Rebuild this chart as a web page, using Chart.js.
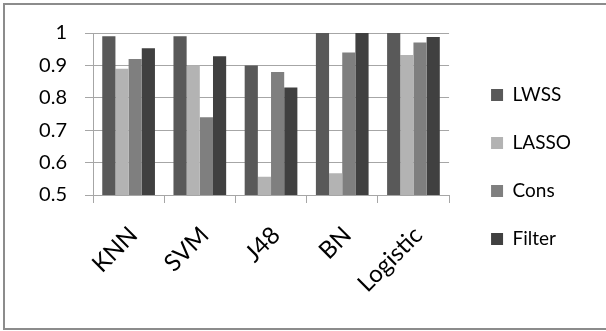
<!DOCTYPE html>
<html>
<head>
<meta charset="utf-8">
<script src="https://cdn.jsdelivr.net/npm/chart.js@4.4.1/dist/chart.umd.min.js"></script>
<style>
  html, body { margin: 0; padding: 0; background: #fff; }
  #frame {
    position: absolute; left: 3px; top: 3px; width: 620px; height: 323px;
    border: 2px solid #8c8c8c;
  }
  #wrap { position: absolute; left: 0; top: 0; width: 606px; height: 331px; }
</style>
</head>
<body>
<div id="frame"></div>
<div id="wrap"><canvas id="chart"></canvas></div>
<script>
// categories and series
const classifiers = ['KNN', 'SVM', 'J48', 'BN', 'Logistic'];
const lwss   = [0.99, 0.99, 0.90, 1.00, 1.00];
const lasso  = [0.89, 0.90, 0.556, 0.567, 0.932];
const cons   = [0.92, 0.74, 0.88, 0.94, 0.971];
const filter = [0.953, 0.928, 0.832, 1.00, 0.988];
const yTicks = [0.5, 0.6, 0.7, 0.8, 0.9, 1];

const font = "Lato, 'Open Sans', sans-serif";
const gridColor = '#a6a6a6';

// nudge the legend so it sits where the original one does
const legendNudge = {
    id: 'legendNudge',
    afterLayout(chart) {
        const l = chart.legend;
        l.left += 13; l.right += 13;
        l.top -= 15; l.bottom -= 15;
    }
};

document.addEventListener('DOMContentLoaded', () => {
    const ctx = document.getElementById('chart');
    new Chart(ctx, {
        type: 'bar',
        data: {
            labels: classifiers,
            datasets: [
                { label: 'LWSS',   data: lwss,   backgroundColor: '#595959' },
                { label: 'LASSO',  data: lasso,  backgroundColor: '#b3b3b3' },
                { label: 'Cons',   data: cons,   backgroundColor: '#7f7f7f' },
                { label: 'Filter', data: filter, backgroundColor: '#404040' }
            ]
        },
        plugins: [legendNudge],
        options: {
            responsive: true,
            maintainAspectRatio: false,
            animation: false,
            datasets: { bar: { categoryPercentage: 0.74, barPercentage: 1.0 } },
            layout: { padding: { top: 33, right: 38, bottom: 0, left: 0 } },
            plugins: {
                tooltip: { enabled: false },
                legend: {
                    position: 'right',
                    labels: {
                        boxWidth: 12, boxHeight: 12, padding: 29,
                        color: '#000', font: { family: font, size: 19 }
                    }
                }
            },
            scales: {
                x: {
                    grid: {
                        display: true, drawOnChartArea: false, drawTicks: true,
                        tickLength: 8, color: gridColor, offset: true
                    },
                    border: { color: gridColor, width: 1 },
                    ticks: {
                        color: '#000', font: { family: font, size: 24 },
                        minRotation: 45, maxRotation: 45, padding: 18, labelOffset: 5
                    },
                    afterFit: (s) => { s.height = 136; }
                },
                y: {
                    min: 0.5, max: 1,
                    grid: { color: gridColor, tickLength: 8 },
                    border: { color: gridColor },
                    afterBuildTicks: (s) => { s.ticks = yTicks.map(v => ({ value: v })); },
                    ticks: {
                        color: '#000', font: { family: font, size: 20 }, padding: 18,
                        callback: (v) => String(Math.round(v * 10) / 10)
                    },
                    afterFit: (s) => { s.width = 93; }
                }
            }
        }
    });
});
</script>
</body>
</html>
